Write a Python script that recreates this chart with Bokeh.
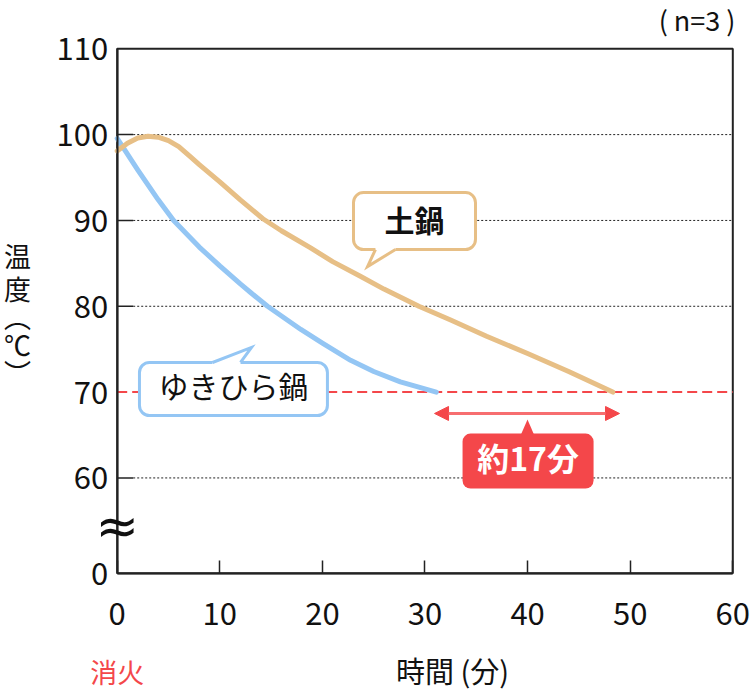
from bokeh.plotting import figure
from bokeh.models import Range1d, FixedTicker, Label, Arrow, NormalHead
from bokeh.core.properties import value
from bokeh.embed import file_html
from bokeh.resources import INLINE

FONT = "Noto Sans CJK JP"

# ---- data ----
x_ticks = [0, 10, 20, 30, 40, 50, 60]
y_tick_values = [48.9, 60, 70, 80, 90, 100, 110]     # 48.9 = position of the broken-axis "0"
y_tick_labels = ["0", "60", "70", "80", "90", "100", "110"]
grid_values = [60, 80, 90, 100]
target_temp = 70

yukihira_t = [0, 2, 4, 5.5, 8, 10, 12, 13, 14.65, 17.9, 20, 22.75, 25, 27.6, 31.1]
yukihira_v = [99.55, 95.9, 92.4, 90.0, 86.9, 84.7, 82.6, 81.6, 80.0, 77.3, 75.7, 73.7, 72.4, 71.2, 70.0]

donabe_t = [0, 1, 2, 3, 4, 5, 6, 7.15, 8, 10, 12, 14.2, 16, 18.85, 21, 23.7, 26, 29.4, 32.5, 36, 40, 44, 48.3]
donabe_v = [98.1, 99.0, 99.6, 99.8, 99.7, 99.3, 98.6, 97.4, 96.5, 94.5, 92.4, 90.2, 88.8, 86.8, 85.2, 83.5, 82.0, 80.0, 78.4, 76.5, 74.5, 72.4, 70.0]

BLUE = "#94c6f4"
TAN = "#e7bf86"
RED = "#f4474a"
INK = "#222222"
TXT = "#111111"

X0, X1, Y0, Y1 = 0, 60, 48.9, 110


def vy(py):
    """vertical pixel (from top) -> temperature units of this chart"""
    return 85 - (py - 262.85) / 8.583


# frame covers the whole canvas; axes are pinned with fixed_location
p = figure(width=750, height=691, x_range=Range1d(-11.374, 61.725), y_range=Range1d(35.117, 115.625),
           output_backend="svg", toolbar_location=None,
           min_border_left=0, min_border_right=0, min_border_top=0, min_border_bottom=0)
p.background_fill_color = "white"
p.border_fill_color = "white"
p.outline_line_color = None
p.xgrid.visible = False
p.ygrid.visible = False

p.xaxis.fixed_location = Y0
p.xaxis.bounds = (X0, X1)
p.xaxis.ticker = FixedTicker(ticks=x_ticks, minor_ticks=[])
p.xaxis.major_tick_in = 13
p.xaxis.major_tick_out = 0
p.xaxis.major_tick_line_color = INK
p.xaxis.major_tick_line_width = 1.5
p.xaxis.axis_line_color = INK
p.xaxis.axis_line_width = 2
p.xaxis.major_label_standoff = 29
p.xaxis.major_label_text_font = FONT
p.xaxis.major_label_text_font_size = "31px"
p.xaxis.major_label_text_color = TXT

p.yaxis.fixed_location = X0
p.yaxis.bounds = (Y0, Y1)
p.yaxis.ticker = FixedTicker(ticks=y_tick_values, minor_ticks=[])
p.yaxis.major_label_overrides = dict(zip(y_tick_values, y_tick_labels))
p.yaxis.major_tick_in = 0
p.yaxis.major_tick_out = 0
p.yaxis.axis_line_color = INK
p.yaxis.axis_line_width = 2
p.yaxis.major_label_standoff = 9
p.yaxis.major_label_text_font = FONT
p.yaxis.major_label_text_font_size = "31px"
p.yaxis.major_label_text_color = TXT

# plot box (top / right edges)
p.quad(left=[X0], right=[X1], bottom=[Y0], top=[Y1], fill_color=None, line_color=INK, line_width=2)

# dotted grid with short solid inner ticks
n = len(grid_values)
p.segment(x0=[1.56] * n, x1=[X1] * n, y0=grid_values, y1=grid_values,
          line_color=INK, line_width=1, line_dash="2 2")
p.segment(x0=[X0] * n, x1=[1.56] * n, y0=grid_values, y1=grid_values,
          line_color=INK, line_width=1.5)

# 70 °C reference line
p.line([X0, X1], [target_temp, target_temp], line_color=RED, line_width=2, line_dash="10 5")

# curves
p.line(yukihira_t, yukihira_v, line_color=BLUE, line_width=5, line_cap="round", line_join="round")
p.line(donabe_t, donabe_v, line_color=TAN, line_width=5, line_cap="round", line_join="round")


def bubble(l, r, t, b, tail_base, tail_tip, edge_y, inward, color, fill, radius,
           text, text_y, tcolor, bold, size):
    p.quad(left=l, right=r, top=t, bottom=b, fill_color=fill,
           line_color=None if fill == color else color, line_width=3, border_radius=radius)
    (bx0, bx1), (tx, ty) = tail_base, tail_tip
    p.patch([bx0, bx0, tx, bx1, bx1], [edge_y + inward, edge_y, ty, edge_y, edge_y + inward],
            fill_color=fill, line_color=None)
    if fill != color:
        p.line([bx0, tx, bx1], [edge_y, ty, edge_y], line_color=color, line_width=3, line_join="miter")
    p.text(x=[(l + r) / 2], y=[text_y], text=[text], text_font=value(FONT), text_font_size=size,
           text_align="center", text_baseline="middle", text_color=tcolor,
           text_font_style="bold" if bold else "normal")


bubble(23.03, 34.92, 93.25, 86.61, (25.17, 27.12), (24.40, 84.63), 86.61, 0.4,
       TAN, "white", 10, "土鍋", vy(218), TXT, True, "30px")
bubble(2.17, 20.49, 73.45, 67.27, (9.29, 12.02), (13.09, 75.20), 73.45, -0.4,
       BLUE, "white", 10, "ゆきひら鍋", vy(384), TXT, False, "30px")
bubble(33.66, 46.43, 65.17, 58.77, (39.40, 40.58), (39.99, 66.80), 65.17, -0.4,
       RED, RED, 8, "約17分", vy(456), "white", True, "32px")

# double-headed arrow
p.add_layout(Arrow(x_start=30.93, x_end=48.96, y_start=67.51, y_end=67.51,
                   start=NormalHead(size=14, fill_color=RED, line_color=RED),
                   end=NormalHead(size=14, fill_color=RED, line_color=RED),
                   line_color="#f76e70", line_width=3))

# texts around the plot box
p.add_layout(Label(x=60.26, y=vy(19), text="( n=3 )", text_align="right", text_baseline="middle",
                   text_font=FONT, text_font_size="27px", text_color=TXT))
p.add_layout(Label(x=0, y=vy(671), text="消火", text_align="center", text_baseline="middle",
                   text_font=FONT, text_font_size="27px", text_color=RED))
p.add_layout(Label(x=32.68, y=vy(669), text="時間 (分)", text_align="center", text_baseline="middle",
                   text_font=FONT, text_font_size="29px", text_color=TXT))

ylabel_chars = ["温", "度", "︵", "℃", "︶"]
ylabel_px = [255, 288, 316, 344, 372]
for ch, py in zip(ylabel_chars, ylabel_px):
    p.add_layout(Label(x=-9.72, y=vy(py), text=ch, text_align="center",
                       text_baseline="middle", text_font=FONT, text_font_size="27px",
                       text_color=TXT))

# axis break mark
p.add_layout(Label(x=0, y=vy(525), text="≈", text_align="center", text_baseline="middle",
                   text_font="DejaVu Sans", text_font_size="52px", text_color=TXT))

open("out.html", "w").write(file_html(p, INLINE))
